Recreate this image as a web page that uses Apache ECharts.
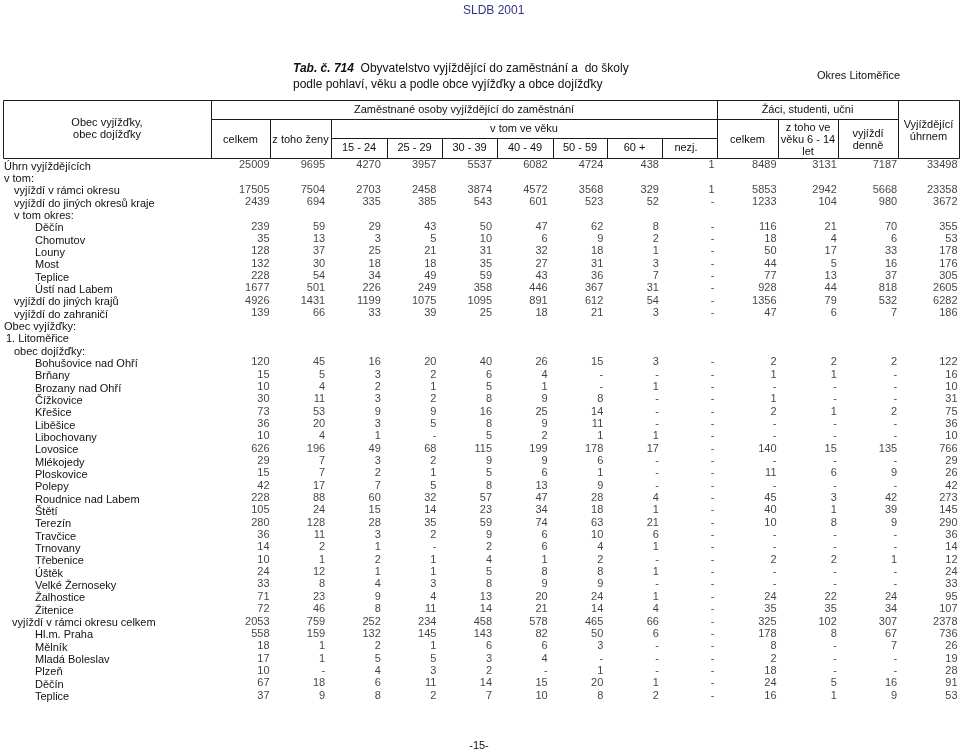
<!DOCTYPE html>
<html>
<head>
<meta charset="utf-8">
<script src="https://cdn.jsdelivr.net/npm/echarts@6/dist/echarts.min.js"></script>
<style>
html,body{margin:0;padding:0;background:#fff;}
#chart{width:960px;height:753px;}
</style>
</head>
<body>
<div id="chart"></div>
<script>
// ---------- DATA ----------
const rowLabels = [
  'Úhrn vyjíždějících','v tom:','vyjíždí v rámci okresu','vyjíždí do jiných okresů kraje','v tom okres:',
  'Děčín','Chomutov','Louny','Most','Teplice','Ústí nad Labem',
  'vyjíždí do jiných krajů','vyjíždí do zahraničí','Obec vyjížďky:','1. Litoměřice','obec dojížďky:',
  'Bohušovice nad Ohří','Brňany','Brozany nad Ohří','Čížkovice','Křešice','Liběšice','Libochovany',
  'Lovosice','Mlékojedy','Ploskovice','Polepy','Roudnice nad Labem','Štětí','Terezín','Travčice',
  'Trnovany','Třebenice','Úštěk','Velké Žernoseky','Žalhostice','Žitenice',
  'vyjíždí v rámci okresu celkem','Hl.m. Praha','Mělník','Mladá Boleslav','Plzeň','Děčín','Teplice'
];
const workCols = ['celkem','z toho ženy','15 - 24','25 - 29','30 - 39','40 - 49','50 - 59','60 +','nezj.'];
const pupilCols = ['celkem','z toho ve věku 6 - 14 let','vyjíždí denně','Vyjíždějící úhrnem'];

// null = row without figures, 0 = "-"
const celkem  = [25009,null,17505,2439,null,239,35,128,132,228,1677,4926,139,null,null,null,120,15,10,30,73,36,10,626,29,15,42,228,105,280,36,14,10,24,33,71,72,2053,558,18,17,10,67,37];
const zeny    = [9695,null,7504,694,null,59,13,37,30,54,501,1431,66,null,null,null,45,5,4,11,53,20,4,196,7,7,17,88,24,128,11,2,1,12,8,23,46,759,159,1,1,0,18,9];
const age1524 = [4270,null,2703,335,null,29,3,25,18,34,226,1199,33,null,null,null,16,3,2,3,9,3,1,49,3,2,7,60,15,28,3,1,2,1,4,9,8,252,132,2,5,4,6,8];
const age2529 = [3957,null,2458,385,null,43,5,21,18,49,249,1075,39,null,null,null,20,2,1,2,9,5,0,68,2,1,5,32,14,35,2,0,1,1,3,4,11,234,145,1,5,3,11,2];
const age3039 = [5537,null,3874,543,null,50,10,31,35,59,358,1095,25,null,null,null,40,6,5,8,16,8,5,115,9,5,8,57,23,59,9,2,4,5,8,13,14,458,143,6,3,2,14,7];
const age4049 = [6082,null,4572,601,null,47,6,32,27,43,446,891,18,null,null,null,26,4,1,9,25,9,2,199,9,6,13,47,34,74,6,6,1,8,9,20,21,578,82,6,4,0,15,10];
const age5059 = [4724,null,3568,523,null,62,9,18,31,36,367,612,21,null,null,null,15,0,0,8,14,11,1,178,6,1,9,28,18,63,10,4,2,8,9,24,14,465,50,3,0,1,20,8];
const age60   = [438,null,329,52,null,8,2,1,3,7,31,54,3,null,null,null,3,0,1,0,0,0,1,17,0,0,0,4,1,21,6,1,0,1,0,1,4,66,6,0,0,0,1,2];
const ageNezj = [1,null,1,0,null,0,0,0,0,0,0,0,0,null,null,null,0,0,0,0,0,0,0,0,0,0,0,0,0,0,0,0,0,0,0,0,0,0,0,0,0,0,0,0];
const zaciCelkem = [8489,null,5853,1233,null,116,18,50,44,77,928,1356,47,null,null,null,2,1,0,1,2,0,0,140,0,11,0,45,40,10,0,0,2,0,0,24,35,325,178,8,2,18,24,16];
const zaci614 = [3131,null,2942,104,null,21,4,17,5,13,44,79,6,null,null,null,2,1,0,0,1,0,0,15,0,6,0,3,1,8,0,0,2,0,0,22,35,102,8,0,0,0,5,1];
const zaciDenne = [7187,null,5668,980,null,70,6,33,16,37,818,532,7,null,null,null,2,0,0,0,2,0,0,135,0,9,0,42,39,9,0,0,1,0,0,24,34,307,67,7,0,0,16,9];
const uhrnem  = [33498,null,23358,3672,null,355,53,178,176,305,2605,6282,186,null,null,null,122,16,10,31,75,36,10,766,29,26,42,273,145,290,36,14,12,24,33,95,107,2378,736,26,19,28,91,53];

const workSeries = [celkem, zeny, age1524, age2529, age3039, age4049, age5059, age60, ageNezj];
const pupilSeries = [zaciCelkem, zaci614, zaciDenne, uhrnem];

// ---------- LAYOUT / STYLE ----------
const FONT = '"Liberation Sans", Arial, Helvetica, sans-serif';
const indentPx = [0,0,10,10,10,31,31,31,31,31,31,10,10,0,2,10,
  31,31,31,31,31,31,31,31,31,31,31,31,31,31,31,31,31,31,31,31,31,8,31,31,31,31,31,31];

const rich = {};
indentPx.forEach((p, i) => {
  rich['r' + i] = { padding: [3, 0, 0, p], fontSize: 11, fontFamily: FONT, color: '#111' };
});

function mkSeries(arr, colIdx, axisIdx, name) {
  return {
    type: 'scatter',
    name: name,
    xAxisIndex: axisIdx,
    yAxisIndex: axisIdx,
    symbolSize: 1,
    itemStyle: { color: 'rgba(0,0,0,0)' },
    silent: true,
    label: {
      show: true,
      position: 'left',
      distance: -1,
      fontSize: 11,
      fontFamily: FONT,
      color: '#111',
      formatter: p => (p.value[2] === 0 ? '-' : String(p.value[2]))
    },
    data: arr.map((v, i) => (v === null ? null : [colIdx, i, v])).filter(d => d !== null)
  };
}

const series = [];
workSeries.forEach((arr, c) => series.push(mkSeries(arr, c, 0, workCols[c])));
pupilSeries.forEach((arr, c) => series.push(mkSeries(arr, c, 1, pupilCols[c])));

const rowKeys = rowLabels.map((_, i) => String(i));
const gridTop = 165, gridBottom = 753 - 695.5;

// Table header graphics
const L = (x1, y1, x2, y2) => ({ type: 'line', silent: true,
  shape: { x1: x1 + 0.5, y1: y1 + 0.5, x2: x2 + 0.5, y2: y2 + 0.5 },
  style: { stroke: '#1a1a1a', lineWidth: 1 } });
const T = (x, y, text, opts) => ({ type: 'text', silent: true, x: x, y: y,
  style: Object.assign({ text: text, fontSize: 11, fontFamily: FONT, fill: '#111',
    textAlign: 'center', textVerticalAlign: 'middle' }, opts || {}) });

const graphics = [
  L(3,100,959,100), L(211,119,898,119), L(331,138,717,138), L(3,158,959,158),
  L(3,100,3,158), L(211,100,211,158), L(717,100,717,158), L(898,100,898,158), L(959,100,959,158),
  L(270,119,270,158), L(331,119,331,158), L(778,119,778,158), L(838,119,838,158),
  L(387,138,387,158), L(442,138,442,158), L(497,138,497,158), L(553,138,553,158),
  L(607,138,607,158), L(662,138,662,158),
  T(107,123,'Obec vyjížďky,'), T(107,135,'obec dojížďky'),
  T(464,109.5,'Zaměstnané osoby vyjíždějící do zaměstnání'),
  T(807.5,109.5,'Žáci, studenti, učni'),
  T(240.5,140,'celkem'), T(300.5,140,'z toho ženy'),
  T(524,128.5,'v tom ve věku'),
  T(359,148,'15 - 24'), T(414.5,148,'25 - 29'), T(469.5,148,'30 - 39'), T(525,148,'40 - 49'),
  T(580,148,'50 - 59'), T(634.5,148,'60 +'), T(686,148,'nezj.'),
  T(747.5,140,'celkem'),
  T(808,128,'z toho ve'), T(808,140,'věku 6 - 14'), T(808,152,'let'),
  T(868,134,'vyjíždí'), T(868,146,'denně'),
  T(928.5,125,'Vyjíždějící'), T(928.5,137,'úhrnem'),
  { type: 'text', silent: true, x: 293, y: 69, style: {
      text: '{b|Tab. č. 714}  Obyvatelstvo vyjíždějící do zaměstnání a  do školy',
      fontSize: 12, fontFamily: FONT, fill: '#111', textVerticalAlign: 'middle',
      rich: { b: { fontSize: 12, fontFamily: FONT, fontStyle: 'italic', fontWeight: 'bold', fill: '#111' } } } },
  T(293,85,'podle pohlaví, věku a podle obce vyjížďky a obce dojížďky', { textAlign: 'left', fontSize: 12 }),
  T(817,76,'Okres Litoměřice', { textAlign: 'left' }),
  T(463,11,'SLDB 2001', { textAlign: 'left', fontSize: 12, fill: '#33338a' }),
  T(479,746,'-15-', { fontSize: 11 })
];

const chart = echarts.init(document.getElementById('chart'), null, { renderer: 'canvas' });
chart.setOption({
  animation: false,
  backgroundColor: '#ffffff',
  textStyle: { fontFamily: FONT },
  grid: [
    { left: 269, right: 960 - 714, top: gridTop, bottom: gridBottom },
    { left: 776, right: 3, top: gridTop, bottom: gridBottom }
  ],
  xAxis: [
    { gridIndex: 0, type: 'category', data: workCols, boundaryGap: false, show: false },
    { gridIndex: 1, type: 'category', data: pupilCols, boundaryGap: false, show: false }
  ],
  yAxis: [
    { gridIndex: 0, type: 'category', data: rowKeys, inverse: true, boundaryGap: false,
      axisLine: { show: false }, axisTick: { show: false }, splitLine: { show: false },
      axisLabel: { show: true, interval: 0, align: 'left', margin: 265,
        formatter: (v, idx) => '{r' + idx + '|' + rowLabels[idx] + '}', rich: rich } },
    { gridIndex: 1, type: 'category', data: rowKeys, inverse: true, boundaryGap: false, show: false }
  ],
  series: series,
  graphic: graphics
});
</script>
</body>
</html>
